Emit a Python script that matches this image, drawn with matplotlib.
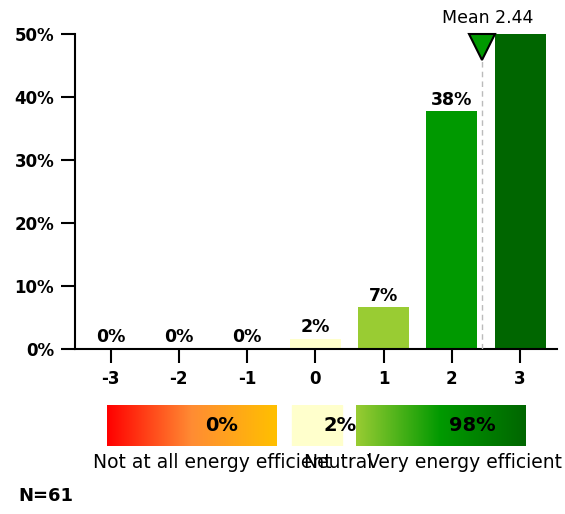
import matplotlib
matplotlib.use('Agg')
import matplotlib.pyplot as plt
import numpy as np
from matplotlib.colors import LinearSegmentedColormap
from matplotlib.patches import Rectangle
import matplotlib.transforms as mtransforms

# ---- data ----
categories = [-3, -2, -1, 0, 1, 2, 3]
percentages = [0, 0, 0, 1.6, 6.6, 37.7, 54.1]
bar_colors = ['#FF0000', '#FF8000', '#FFC000', '#FFFFCC', '#99CC33', '#009900', '#006600']
mean_value = 2.44
n_responses = 61
y_ticks = [0, 10, 20, 30, 40, 50]
summary_labels = ['Not at all energy efficient', 'Neutral', 'Very energy efficient']
summary_values = [0, 2, 98]

W, H = 565, 514
fig = plt.figure(figsize=(W / 100, H / 100), dpi=100)
fig.patch.set_facecolor('white')

# ---- main axes ----
ax = fig.add_axes([75 / W, 1 - 349 / H, 482 / W, 315 / H])
ymax = y_ticks[-1]
ax.bar(categories, percentages, width=0.75, color=bar_colors, zorder=2)
ax.set_xlim(-3.52, 3.54)
ax.set_ylim(0, ymax)
ax.set_xticks(categories)
ax.set_xticklabels([str(c) for c in categories])
ax.set_yticks(y_ticks)
ax.set_yticklabels([f'{t}%' for t in y_ticks])
for s in ['top', 'right']:
    ax.spines[s].set_visible(False)
for s in ['left', 'bottom']:
    ax.spines[s].set_linewidth(1.5)
ax.tick_params(axis='both', length=10, width=1.5, labelsize=12, direction='out')
ax.tick_params(axis='y', pad=5)
ax.tick_params(axis='x', pad=5)
for lbl in ax.get_xticklabels() + ax.get_yticklabels():
    lbl.set_fontweight('bold')

for x, v in zip(categories, percentages):
    if v <= ymax:
        ax.annotate(f'{v:.0f}%', (x, v), xytext=(0, 2), textcoords='offset points',
                    ha='center', va='bottom', fontsize=12.5, fontweight='bold',
                    annotation_clip=False)

# mean marker
ax.plot([mean_value, mean_value], [0, ymax], color='#BBBBBB', lw=1,
        ls=(0, (4, 3)), zorder=3)
trans = mtransforms.offset_copy(ax.transData, fig=fig, y=-9.5, units='points')
ax.plot([mean_value], [ymax], marker='v', ms=19, mfc='#009900', mec='black',
        mew=1.5, transform=trans, clip_on=False, zorder=5)
ax.annotate(f'Mean {mean_value:.2f}', (mean_value, ymax), xytext=(4, 11.5),
            textcoords='offset points', ha='center', va='center', fontsize=12.5,
            annotation_clip=False)

# ---- summary bar ----
ax2 = fig.add_axes([107 / W, 1 - 446 / H, 419 / W, 41 / H])
ax2.set_xlim(0, 419)
ax2.set_ylim(0, 1)
ax2.axis('off')
grad = np.linspace(0, 1, 256)[None, :]
neg_cmap = LinearSegmentedColormap.from_list('neg', ['#FF0000', '#FF8C33', '#FFC000'])
pos_cmap = LinearSegmentedColormap.from_list('pos', ['#99CC33', '#009900', '#006600'])
ax2.imshow(grad, extent=[0, 170, 0, 1], aspect='auto', cmap=neg_cmap)
ax2.add_patch(Rectangle((185, 0), 50, 1, color='#FFFFCC'))
ax2.imshow(grad, extent=[249, 419, 0, 1], aspect='auto', cmap=pos_cmap)
ax2.set_xlim(0, 419)
ax2.set_ylim(0, 1)
text_x = [115, 233, 365]
for tx, v in zip(text_x, summary_values):
    ax2.text(tx, 0.5, f'{v}%', ha='center', va='center', fontsize=14,
             fontweight='bold', clip_on=False)

fig.text(93 / W, 1 - 462 / H, summary_labels[0], ha='left', va='center', fontsize=13.5)
fig.text(338 / W, 1 - 462 / H, summary_labels[1], ha='center', va='center', fontsize=13.5)
fig.text(562 / W, 1 - 462 / H, summary_labels[2], ha='right', va='center', fontsize=13.5)

fig.text(18 / W, 1 - 496 / H, f'N={n_responses}', ha='left', va='center',
         fontsize=13, fontweight='bold')

fig.savefig('out.png', dpi=100)
